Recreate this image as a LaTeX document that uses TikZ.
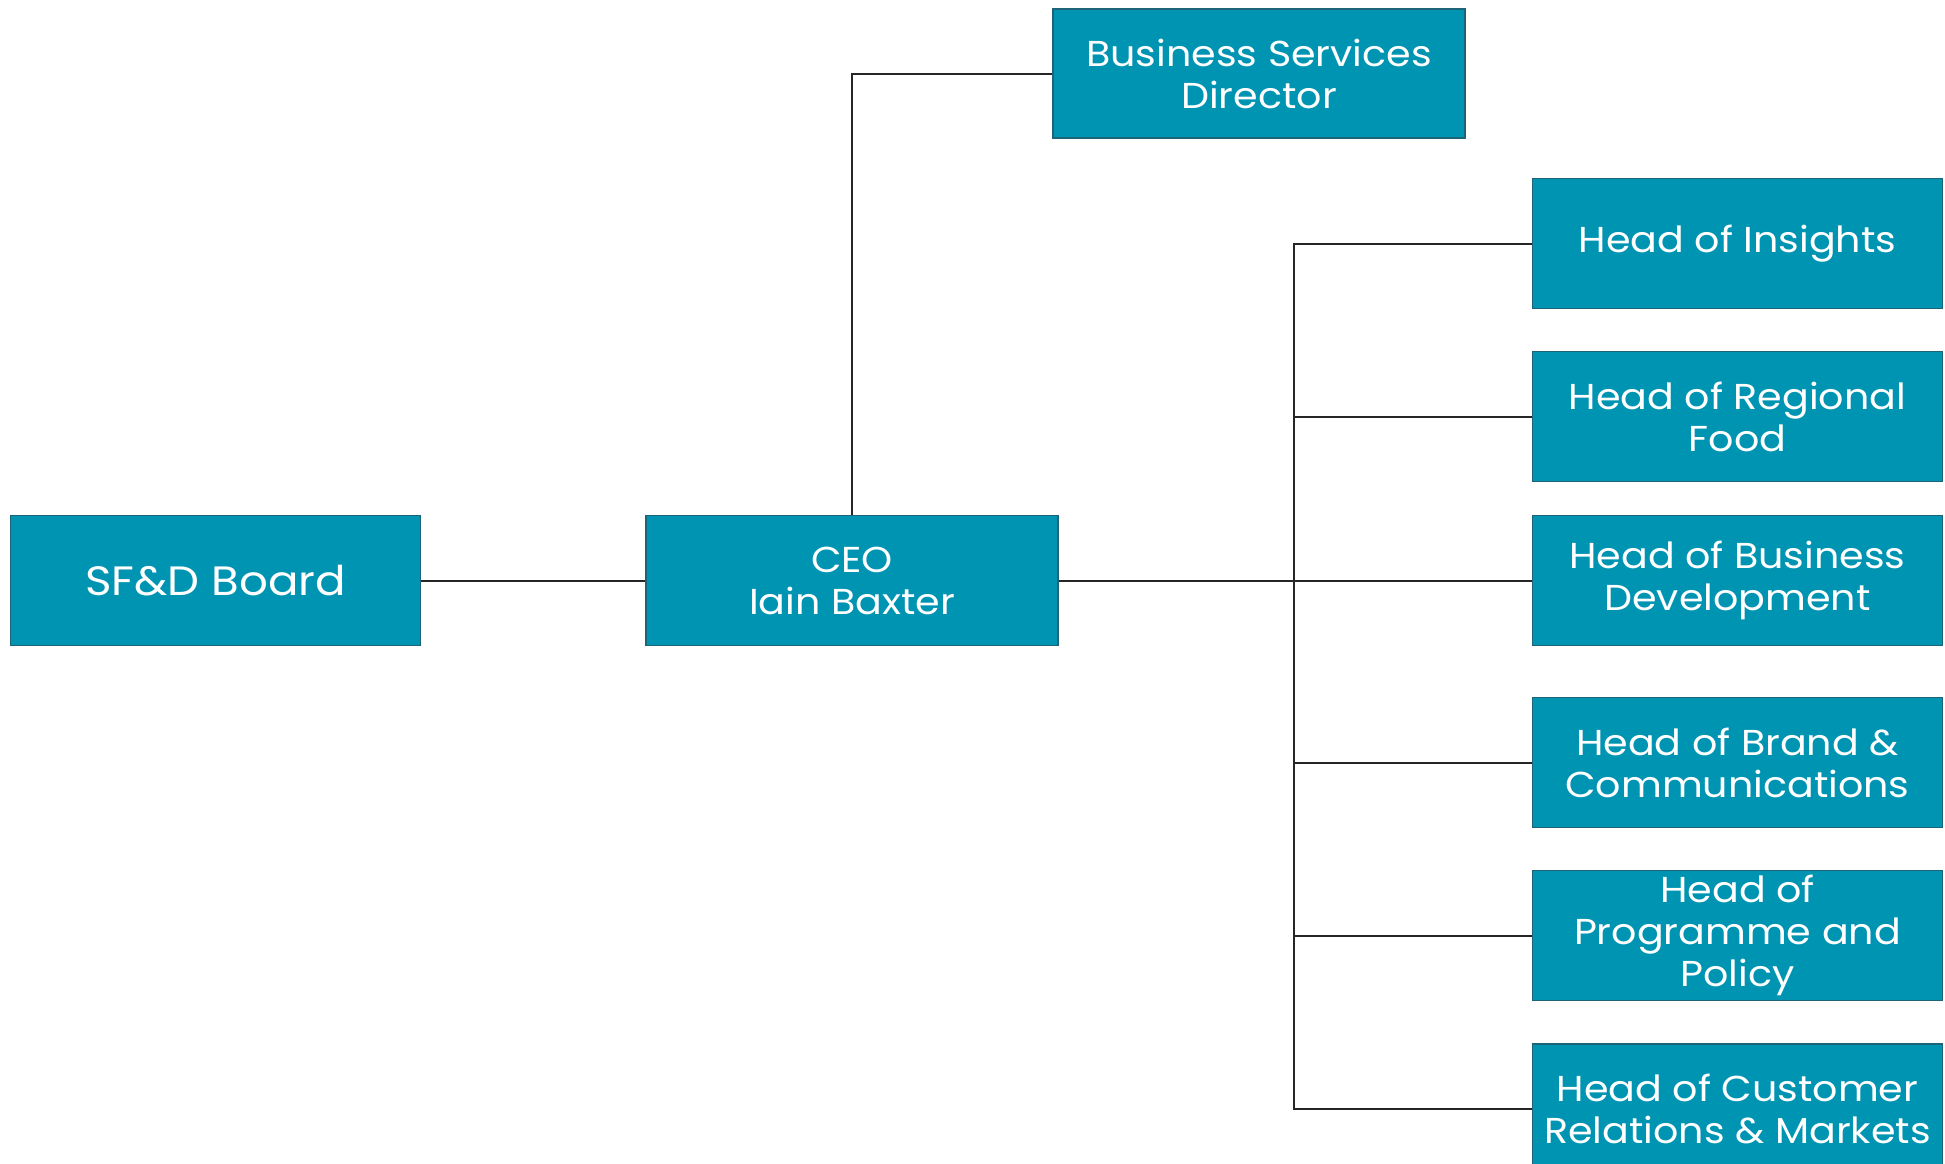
\documentclass[tikz,border=0pt]{standalone}
\usepackage{fontspec}
\setmainfont[FakeStretch=1.1]{Poppins}
\begin{document}
\begin{tikzpicture}[x=0.5pt,y=-0.5pt,
  orgbox/.style={draw=boxedge, line width=0.6pt, fill=teal94, text=white,
    minimum width=205pt, minimum height=65pt, inner sep=2pt,
    align=center, font=\fontsize{18}{21}\selectfont},
  link/.style={draw=black!85, line width=1pt}]
\definecolor{teal94}{HTML}{0094B3}
\definecolor{boxedge}{HTML}{1E6478}
\useasboundingbox (0,0) rectangle (1945,1163);
\clip (0,0) rectangle (1945,1163);

% boxes
\node[orgbox, font=\fontsize{20.5}{24}\selectfont] (board) at (215.5,580.5) {SF\&D Board};
\node[orgbox, minimum width=206pt] (ceo) at (852,580.5) {CEO\\Iain Baxter};
\node[orgbox, minimum width=206pt, minimum height=64.5pt] (bsd) at (1259,73.5) {Business Services\\Director};
\node[orgbox] (insights) at (1737.5,243.5) {Head of Insights};
\node[orgbox] (regional) at (1737.5,416.5) {Head of Regional\\Food};
\node[orgbox] (busdev) at (1737.5,580.5) {Head of Business\\Development};
\node[orgbox] (brand) at (1737.5,762.5) {Head of Brand \&\\Communications};
\node[orgbox] (policy) at (1737.5,935.5) {Head of\\Programme and\\Policy};
\node[orgbox] (customer) at (1737.5,1109) {Head of Customer\\Relations \& Markets};

% connectors
\coordinate (trunk) at (1294,580.5);
\draw[link] (board.east) -- (ceo.west);
\draw[link] (ceo.north) |- (bsd.west);
\draw[link] (ceo.east) -- (trunk);
\draw[link] (insights.west) -| (trunk |- customer.west) -- (customer.west);
\foreach \n in {regional,busdev,brand,policy}
  \draw[link] (trunk |- \n.west) -- (\n.west);
\end{tikzpicture}
\end{document}
